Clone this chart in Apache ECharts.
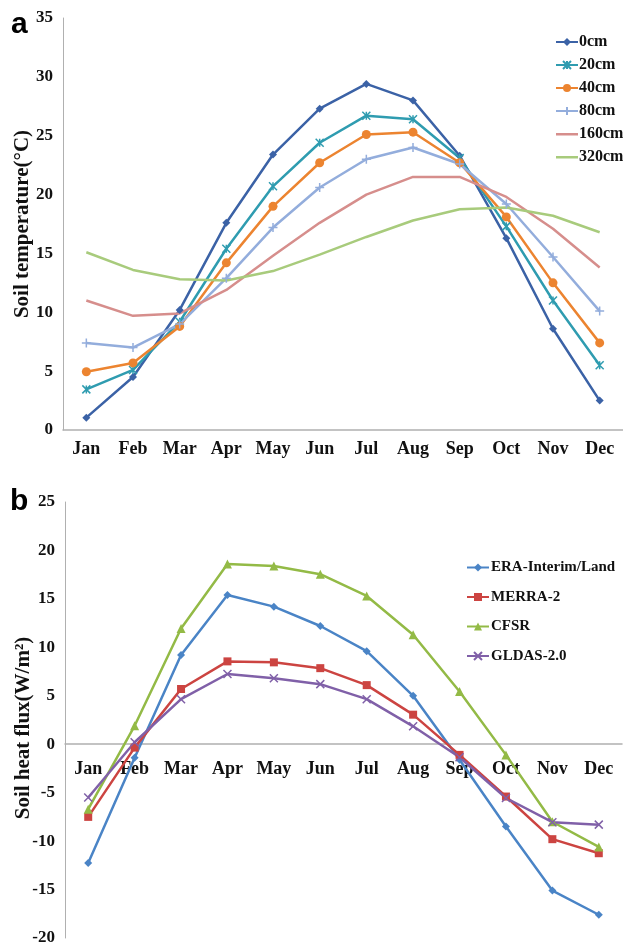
<!DOCTYPE html>
<html>
<head>
    <meta charset="utf-8">
    <title>Soil temperature and heat flux</title>
    <script src="https://cdn.jsdelivr.net/npm/echarts@6/dist/echarts.min.js"></script>
    <style>
        html, body { margin: 0; padding: 0; background: #fff; }
    </style>
</head>
<body>
    <div id="main" style="width: 623px; height: 946px;"></div>
    <script type="text/javascript">
        var months = ['Jan','Feb','Mar','Apr','May','Jun','Jul','Aug','Sep','Oct','Nov','Dec'];

        // panel a: soil temperature by depth
        var t0cm   = [1.05, 4.5, 10.2, 17.6, 23.4, 27.3, 29.4, 28.0, 23.3, 16.3, 8.6, 2.5];
        var t20cm  = [3.45, 5.1, 9.2, 15.4, 20.7, 24.4, 26.7, 26.4, 23.1, 17.3, 11.0, 5.5];
        var t40cm  = [4.95, 5.7, 8.8, 14.2, 19.0, 22.7, 25.1, 25.3, 22.7, 18.1, 12.5, 7.4];
        var t80cm  = [7.4, 7.0, 9.0, 12.9, 17.2, 20.6, 23.0, 24.0, 22.6, 19.2, 14.7, 10.1];
        var t160cm = [11.0, 9.7, 9.9, 11.9, 14.8, 17.6, 20.0, 21.5, 21.5, 19.8, 17.1, 13.8];
        var t320cm = [15.1, 13.6, 12.8, 12.7, 13.5, 14.9, 16.4, 17.8, 18.75, 18.9, 18.2, 16.8];

        // panel b: soil heat flux by product
        var fluxEra   = [-12.25, -1.4, 9.2, 15.4, 14.2, 12.2, 9.6, 5.0, -1.6, -8.5, -15.1, -17.6];
        var fluxMerra = [-7.5, -0.35, 5.7, 8.55, 8.45, 7.85, 6.1, 3.05, -1.1, -5.4, -9.8, -11.25];
        var fluxCfsr  = [-6.7, 1.9, 11.95, 18.6, 18.4, 17.55, 15.3, 11.3, 5.45, -1.1, -8.0, -10.6];
        var fluxGldas = [-5.5, 0.2, 4.65, 7.25, 6.8, 6.2, 4.65, 1.85, -1.35, -5.55, -8.05, -8.3];

        var serif = '"Liberation Serif", "DejaVu Serif", serif';
        var axisGray = '#b0b0b0';
        var crossPath = 'path://M0,0L10,10M10,0L0,10M5,0L5,10';
        var plusPath = 'path://M5,0L5,10M0,5L10,5';
        var xPath = 'path://M0,0L10,10M10,0L0,10';
        // plain line legend icon (tiny corner dots keep the box 22x10)
        var lineIcon = 'path://M0,0L0.01,0M0,4L22,4L22,6.5L0,6.5ZM21.99,10L22,10';

        // grid b geometry, used to sit the category axis on the zero line
        var gridBTop = 502, gridBBottom = 8;
        var gridBHeight = 946 - gridBTop - gridBBottom;
        var fluxMin = -20, fluxMax = 25;

        function lineSeries(name, data, color, symbol, size, axisIdx, stroked) {
            return {
                name: name,
                type: 'line',
                xAxisIndex: axisIdx,
                yAxisIndex: axisIdx,
                data: data,
                symbol: symbol,
                symbolSize: size,
                showSymbol: symbol !== 'none',
                lineStyle: { color: color, width: 2.5 },
                itemStyle: stroked ? { color: color, borderColor: color, borderWidth: 1.5 } : { color: color },
                emphasis: { disabled: true },
                animation: false
            };
        }

        function catAxis(gridIdx, margin, offset) {
            return {
                type: 'category',
                gridIndex: gridIdx,
                data: months,
                boundaryGap: true,
                offset: offset,
                axisLine: { onZero: false, lineStyle: { color: axisGray, width: 1.5 } },
                axisTick: { show: false },
                axisLabel: { color: '#111', fontFamily: serif, fontWeight: 'bold', fontSize: 18, margin: margin }
            };
        }

        function valAxis(gridIdx, name, min, max, gap, namePad) {
            return {
                type: 'value',
                gridIndex: gridIdx,
                min: min,
                max: max,
                interval: 5,
                name: name,
                nameLocation: 'middle',
                nameGap: gap,
                nameMoveOverlap: false,
                nameTextStyle: { color: '#111', fontFamily: serif, fontWeight: 'bold', fontSize: 21, padding: namePad },
                axisLine: { show: true, lineStyle: { color: axisGray, width: 1 } },
                axisTick: { show: false },
                splitLine: { show: false },
                axisLabel: { color: '#111', fontFamily: serif, fontWeight: 'bold', fontSize: 17, margin: 10 }
            };
        }

        var myChart = echarts.init(document.getElementById('main'));

        var panelFont = { fontFamily: '"Liberation Sans", Arial, sans-serif', fontWeight: 'bold', fontSize: 30, color: '#000' };

        myChart.setOption({
            backgroundColor: '#fff',
            title: [
                { text: 'a', left: 6, top: 5, textStyle: panelFont },
                { text: 'b', left: 5, top: 482, textStyle: panelFont }
            ],
            legend: [
                {
                    data: [
                        { name: '0cm' }, { name: '20cm' }, { name: '40cm' }, { name: '80cm' },
                        { name: '160cm', icon: lineIcon }, { name: '320cm', icon: lineIcon }
                    ],
                    orient: 'vertical',
                    left: 555,
                    top: 34,
                    padding: 0,
                    itemGap: 7,
                    itemWidth: 22,
                    itemHeight: 10,
                    textStyle: { color: '#111', fontFamily: serif, fontWeight: 'bold', fontSize: 16, padding: [0, 0, 0, -4] }
                },
                {
                    data: ['ERA-Interim/Land', 'MERRA-2', 'CFSR', 'GLDAS-2.0'],
                    orient: 'vertical',
                    left: 466,
                    top: 560,
                    padding: 0,
                    itemGap: 14.5,
                    itemWidth: 22,
                    itemHeight: 10,
                    textStyle: { color: '#111', fontFamily: serif, fontWeight: 'bold', fontSize: 15, padding: [0, 0, 0, -3] }
                }
            ],
            grid: [
                { left: 63, right: 0, top: 18, bottom: 516, containLabel: false, outerBoundsMode: 'none' },
                { left: 65, right: 1, top: gridBTop, bottom: gridBBottom, containLabel: false, outerBoundsMode: 'none' }
            ],
            xAxis: [
                catAxis(0, 10, 0),
                catAxis(1, 16, -gridBHeight * (0 - fluxMin) / (fluxMax - fluxMin))
            ],
            yAxis: [
                valAxis(0, 'Soil temperature(\u00B0C)', 0, 35, 30, 0),
                valAxis(1, 'Soil heat flux(W/m\u00B2)', fluxMin, fluxMax, 31, [0, 16, 0, 0])
            ],
            series: [
                lineSeries('0cm', t0cm, '#3b62a6', 'diamond', 8, 0, false),
                lineSeries('20cm', t20cm, '#2f9cb0', crossPath, 8, 0, true),
                lineSeries('40cm', t40cm, '#ec8430', 'circle', 9, 0, false),
                lineSeries('80cm', t80cm, '#93addc', plusPath, 9, 0, true),
                lineSeries('160cm', t160cm, '#d68e8c', 'none', 0, 0, false),
                lineSeries('320cm', t320cm, '#a8cb7c', 'none', 0, 0, false),
                lineSeries('ERA-Interim/Land', fluxEra, '#4a84c6', 'diamond', 8, 1, false),
                lineSeries('MERRA-2', fluxMerra, '#cc4441', 'rect', 8, 1, false),
                lineSeries('CFSR', fluxCfsr, '#93ba46', 'triangle', 9, 1, false),
                lineSeries('GLDAS-2.0', fluxGldas, '#8060a8', xPath, 8, 1, true)
            ]
        });
    </script>
</body>
</html>
